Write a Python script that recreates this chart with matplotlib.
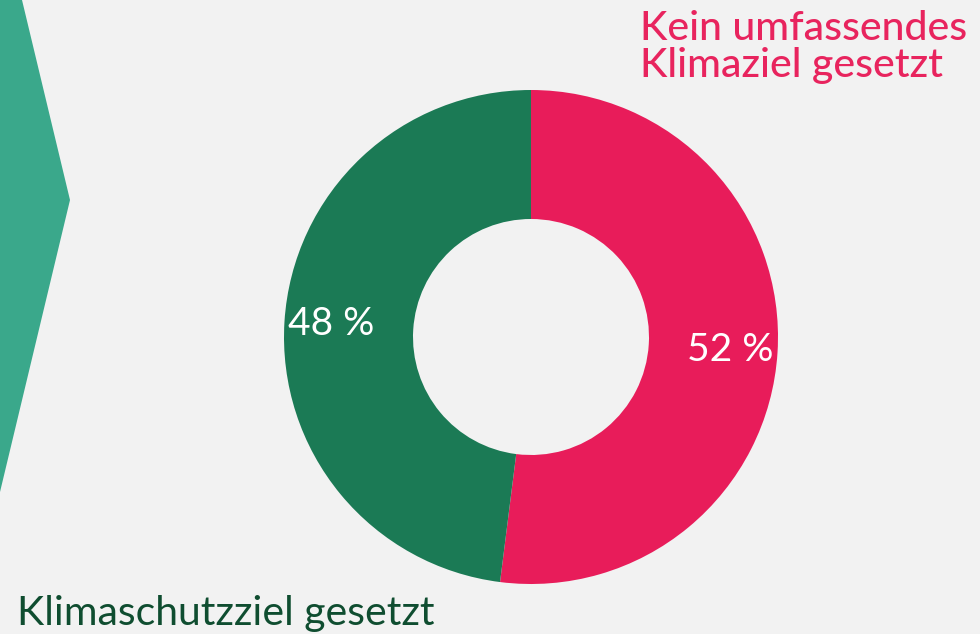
import matplotlib.pyplot as plt
from matplotlib.patches import Polygon

# data
labels = ['Kein umfassendes\nKlimaziel gesetzt', 'Klimaschutzziel gesetzt']
values = [52, 48]
colors = ['#e81c5a', '#1b7a55']

W, H = 980, 634
fig = plt.figure(figsize=(9.8, 6.34), dpi=100, facecolor='#f2f2f2')
ax = fig.add_axes([0, 0, 1, 1])
ax.set_facecolor('#f2f2f2')

wedges, texts, autotexts = ax.pie(values, colors=colors, startangle=90, counterclock=False,
                                  center=(531, H - 337), radius=247,
                                  wedgeprops=dict(width=129, linewidth=0),
                                  autopct=lambda p: f'{p:.0f} %', pctdistance=0.81,
                                  textprops=dict(color='white', fontsize=28, family='Lato'))

# chevron on the left
ax.add_patch(Polygon([(-5, H), (22, H), (70, H - 200), (0, H - 492), (-5, H - 492)],
                     closed=True, facecolor='#3aa88b', edgecolor='none'))

ax.text(640, H - 10, labels[0], color='#e8245e', fontsize=29.5, family='Lato',
        fontweight='medium', va='top', ha='left', linespacing=1.0)
ax.text(17, H - 625, labels[1], color='#0f4d30', fontsize=29.5, family='Lato',
        va='baseline', ha='left')

ax.set_xlim(0, W)
ax.set_ylim(0, H)
ax.set_aspect('equal')
ax.axis('off')

fig.savefig('out.png', dpi=100, facecolor=fig.get_facecolor())
